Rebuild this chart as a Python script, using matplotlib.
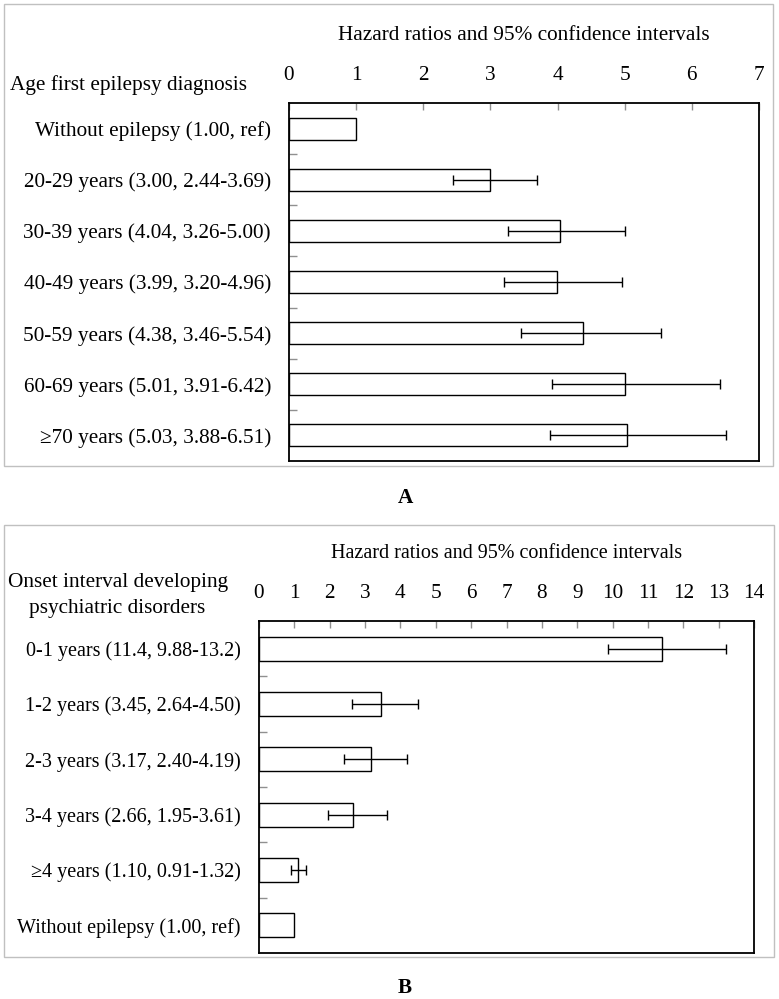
import numpy as np
import matplotlib
matplotlib.use("Agg")
import matplotlib.pyplot as plt
from matplotlib.patches import Rectangle

plt.rcParams["font.family"] = ["Liberation Serif", "DejaVu Serif"]

# Panel A : age at first epilepsy diagnosis
labels_a = ["Without epilepsy (1.00, ref)", "20-29 years (3.00, 2.44-3.69)",
            "30-39 years (4.04, 3.26-5.00)", "40-49 years (3.99, 3.20-4.96)",
            "50-59 years (4.38, 3.46-5.54)", "60-69 years (5.01, 3.91-6.42)",
            "\u226570 years (5.03, 3.88-6.51)"]
hr_a = [1.00, 3.00, 4.04, 3.99, 4.38, 5.01, 5.03]
low_a = [None, 2.44, 3.26, 3.20, 3.46, 3.91, 3.88]
high_a = [None, 3.69, 5.00, 4.96, 5.54, 6.42, 6.51]

# Panel B : onset interval
labels_b = ["0-1 years (11.4, 9.88-13.2)", "1-2 years (3.45, 2.64-4.50)",
            "2-3 years (3.17, 2.40-4.19)", "3-4 years (2.66, 1.95-3.61)",
            "\u22654 years (1.10, 0.91-1.32)", "Without epilepsy (1.00, ref)"]
hr_b = [11.4, 3.45, 3.17, 2.66, 1.10, 1.00]
low_b = [9.88, 2.64, 2.40, 1.95, 0.91, None]
high_b = [13.2, 4.50, 4.19, 3.61, 1.32, None]

W, H = 779, 999
fig = plt.figure(figsize=(W / 100, H / 100), dpi=100)


def px_axes(x0, y0, x1, y1):
    return fig.add_axes([x0 / W, 1 - y1 / H, (x1 - x0) / W, (y1 - y0) / H])


def panel(ax, labels, hr, low, high, xmax, fs, title_pad):
    n = len(labels)
    y = np.arange(n)
    ax.barh(y, hr, height=0.43, color="white", edgecolor="black", linewidth=1.0, zorder=2)
    for i in range(n):
        if low[i] is None:
            continue
        ax.errorbar(hr[i], y[i], xerr=[[hr[i] - low[i]], [high[i] - hr[i]]],
                    fmt="none", ecolor="black", elinewidth=1.0, capsize=3.3,
                    capthick=1.0, zorder=3)
    ax.set_xlim(0, xmax)
    ax.set_ylim(n - 0.5, -0.5)
    ax.set_xticks(range(xmax + 1))
    ax.xaxis.tick_top()
    ax.tick_params(axis="x", direction="in", length=5, width=1, color="#909090",
                   labelsize=15.3, pad=13)
    ax.set_yticks(y)
    ax.set_yticklabels(labels, fontsize=fs)
    ax.set_yticks(np.arange(0.5, n - 1, 1), minor=True)
    ax.tick_params(axis="y", which="major", length=0, pad=13)
    ax.tick_params(axis="y", which="minor", direction="in", length=6, width=1,
                   color="#909090")
    for s in ax.spines.values():
        s.set_linewidth(1.3)
    ax.set_title("Hazard ratios and 95% confidence intervals", fontsize=fs,
                 pad=title_pad)


ax_a = px_axes(289, 103, 759, 461)
panel(ax_a, labels_a, hr_a, low_a, high_a, 7, 15.3, 45.5)
fig.text(10 / W, 1 - 85 / H, "Age first epilepsy diagnosis", fontsize=15.3, va="center")

ax_b = px_axes(259, 621, 754, 953)
panel(ax_b, labels_b, hr_b, low_b, high_b, 14, 14.5, 45)
fig.text(8 / W, 1 - 582 / H, "Onset interval developing", fontsize=15.3, va="center")
fig.text(29 / W, 1 - 608 / H, "psychiatric disorders", fontsize=15.3, va="center")

# panel frames
for (x0, y0, x1, y1) in [(4, 4, 773, 466), (4, 525, 774, 957)]:
    fig.patches.append(Rectangle((x0 / W, 1 - y1 / H), (x1 - x0) / W, (y1 - y0) / H,
                                 transform=fig.transFigure, fill=False,
                                 edgecolor="#c0c0c0", linewidth=1.0))

fig.text(405 / W, 1 - 498 / H, "A", fontsize=15.3, fontweight="bold", ha="center", va="center")
fig.text(405 / W, 1 - 988 / H, "B", fontsize=15.3, fontweight="bold", ha="center", va="center")

fig.savefig("out.png", dpi=100)
